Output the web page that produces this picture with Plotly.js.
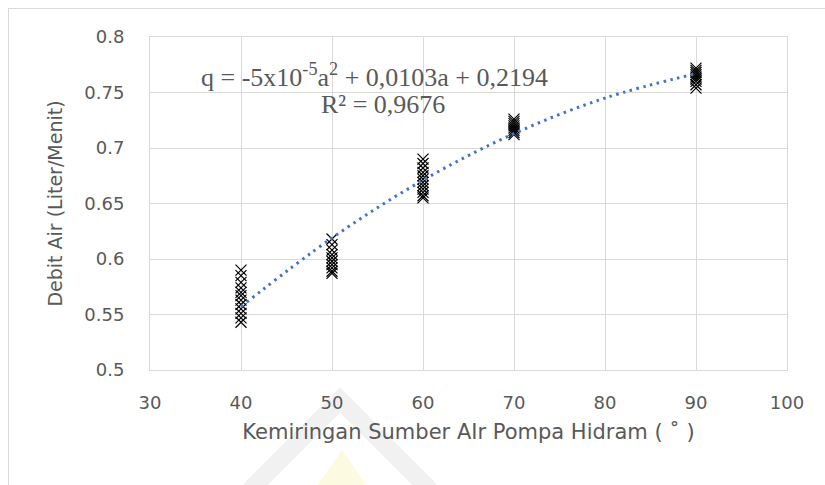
<!DOCTYPE html>
<html><head><meta charset="utf-8">
<script src="https://cdn.plot.ly/plotly-3.0.1.min.js"></script>
<style>
html,body{margin:0;padding:0;background:#fff;}
#frame{position:absolute;left:8px;top:8px;width:900px;height:600px;border-left:1px solid #d9d9d9;border-top:1px solid #d9d9d9;pointer-events:none;}
#chart{position:absolute;left:0;top:0;width:825px;height:485px;}
</style></head><body>
<div id="chart"></div>
<div id="frame"></div>
<script>
// Data
const x40 = [0.590,0.585,0.579,0.574,0.570,0.567,0.563,0.559,0.555,0.551,0.547,0.543];
const x50 = [0.618,0.613,0.608,0.604,0.601,0.598,0.595,0.592,0.589,0.587];
const x60 = [0.690,0.686,0.682,0.678,0.675,0.672,0.669,0.666,0.663,0.660,0.657,0.655];
const x70 = [0.726,0.724,0.722,0.720,0.718,0.716,0.714,0.712];
const x90 = [0.772,0.770,0.768,0.766,0.764,0.762,0.760,0.757,0.754];
const groups = [[40,x40],[50,x50],[60,x60],[70,x70],[90,x90]];
const trendX = [40,50,60,70,80,90];
const trendY = [0.557,0.619,0.671,0.713,0.745,0.767];
const xTicks = [30,40,50,60,70,80,90,100];
const yTicks = [0.5,0.55,0.6,0.65,0.7,0.75,0.8];
const yTickText = ['0.5','0.55','0.6','0.65','0.7','0.75','0.8'];

const px = [], py = [];
groups.forEach(([a, arr]) => arr.forEach(v => { px.push(a); py.push(v); }));

const sans = '"DejaVu Sans",sans-serif';
const tickFont = {family:sans, size:18, color:'#595959'};
const serif = '"Liberation Serif","Times New Roman",serif';

// helpers for paper coords of the faint background watermark
const PX = v => (v-150)/637, PY = v => (370-v)/333;

const traces = [
  {x: px, y: py, mode:'markers', type:'scatter',
   marker:{symbol:'x-thin-open', size:11, color:'#000', line:{color:'#000', width:1.2}},
   hoverinfo:'skip', showlegend:false},
  {x: trendX, y: trendY, mode:'lines', type:'scatter',
   line:{color:'#4472C4', width:3, dash:'2.5px,4.5px', shape:'spline'},
   hoverinfo:'skip', showlegend:false}
];

const layout = {
  width:825, height:485,
  margin:{l:150, r:38, t:37, b:115},
  paper_bgcolor:'#fff', plot_bgcolor:'#fff',
  showlegend:false,
  xaxis:{range:[30,100], tickvals:xTicks, showgrid:true, gridcolor:'#d9d9d9', gridwidth:1,
    zeroline:false, showline:true, linecolor:'#d9d9d9', mirror:true,
    ticks:'', tickfont:tickFont, ticklabelstandoff:16,
    title:{text:'Kemiringan Sumber AIr Pompa Hidram ( ˚ )', font:{family:sans, size:21, color:'#595959'}, standoff:12}},
  yaxis:{range:[0.5,0.8], tickvals:yTicks, ticktext:yTickText, showgrid:true, gridcolor:'#d9d9d9', gridwidth:1,
    zeroline:false, showline:true, linecolor:'#d9d9d9', mirror:true,
    ticks:'', tickfont:tickFont, ticklabelstandoff:21,
    title:{text:'Debit Air (Liter/Menit)', font:{family:sans, size:19, color:'#595959'}, standoff:16}},
  shapes:[
    {type:'path', xref:'paper', yref:'paper', layer:'below',
     path:`M ${PX(250)} ${PY(490)} L ${PX(340)} ${PY(400)} L ${PX(430)} ${PY(490)}`,
     line:{color:'rgba(200,200,200,0.25)', width:18}},
    {type:'path', xref:'paper', yref:'paper', layer:'below',
     path:`M ${PX(342)} ${PY(450)} L ${PX(314)} ${PY(490)} L ${PX(370)} ${PY(490)} Z`,
     fillcolor:'rgba(250,238,160,0.3)', line:{width:0}}
  ],
  annotations:[
    {xref:'paper', yref:'paper', x:PX(374), y:PY(75), xanchor:'center', yanchor:'middle', showarrow:false,
     text:'q = -5x10<sup>-5</sup>a<sup>2</sup> + 0,0103a + 0,2194',
     font:{family:serif, size:26, color:'#595959'}},
    {xref:'paper', yref:'paper', x:PX(383), y:PY(104), xanchor:'center', yanchor:'middle', showarrow:false,
     text:'R² = 0,9676',
     font:{family:serif, size:26, color:'#595959'}}
  ]
};
Plotly.newPlot('chart', traces, layout, {displayModeBar:false, staticPlot:true});
</script>
</body></html>
